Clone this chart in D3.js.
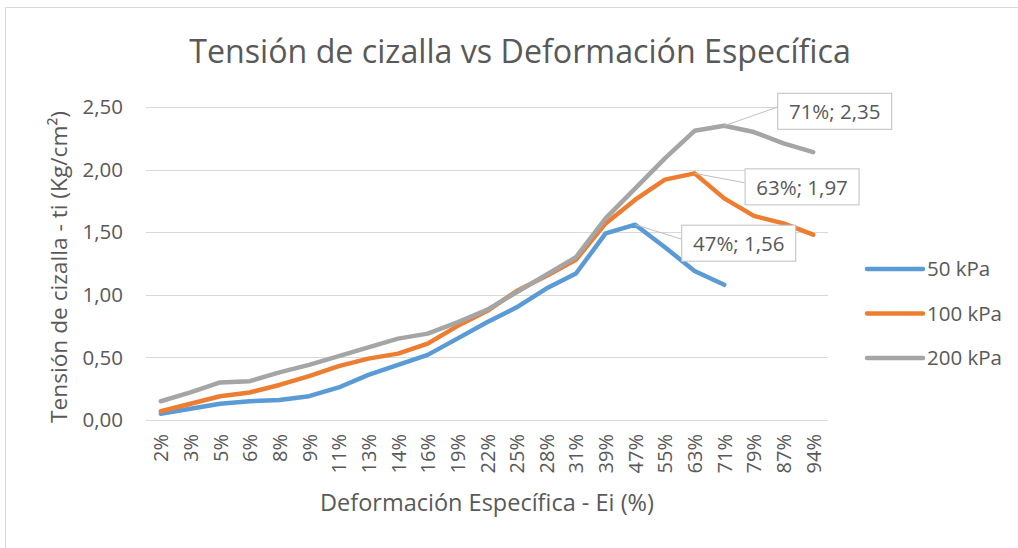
<!DOCTYPE html>
<html>
<head>
<meta charset="utf-8">
<script src="https://cdn.jsdelivr.net/npm/d3@7"></script>
<style>
  body { margin: 0; background: #fff; }
  text { font-family: "Open Sans", sans-serif; fill: #595959; }
</style>
</head>
<body>
<div id="chart"></div>
<script>
// categories (Deformación Específica)
var categories = ["2%","3%","5%","6%","8%","9%","11%","13%","14%","16%","19%","22%","25%","28%","31%","39%","47%","55%","63%","71%","79%","87%","94%"];

// Tensión de cizalla (Kg/cm²) per series
var kpa50  = [0.05,0.09,0.13,0.15,0.16,0.19,0.26,0.36,0.44,0.52,0.65,0.78,0.90,1.05,1.17,1.49,1.56,1.38,1.19,1.08,null,null,null];
var kpa100 = [0.07,0.13,0.19,0.22,0.28,0.35,0.43,0.49,0.53,0.61,0.75,0.87,1.03,1.15,1.28,1.57,1.76,1.92,1.97,1.77,1.63,1.57,1.48];
var kpa200 = [0.15,0.22,0.30,0.31,0.38,0.44,0.51,0.58,0.65,0.69,0.78,0.88,1.02,1.16,1.30,1.61,1.85,2.09,2.31,2.35,2.30,2.21,2.14];

var seriesNames = ["50 kPa", "100 kPa", "200 kPa"];
var seriesColors = ["#5B9BD5", "#ED7D31", "#A5A5A5"];
var yTicks = [0, 0.5, 1, 1.5, 2, 2.5];

// labelled points: series index, category
var labelled = [
  {s: 0, cat: "47%", dx: 46, dy: 0},
  {s: 1, cat: "63%", dx: 50, dy: -5},
  {s: 2, cat: "71%", dx: 53, dy: -33}
];

var series = [kpa50, kpa100, kpa200];
var comma = function(v) { return d3.format(".2f")(v).replace(".", ","); };

var W = 1018, H = 548;
var svg = d3.select("#chart").append("svg")
    .attr("width", W)
    .attr("height", H);

// chart border
svg.append("rect")
    .attr("x", 5.5).attr("y", 7.5)
    .attr("width", W + 20).attr("height", H + 20)
    .attr("fill", "#fff")
    .attr("stroke", "#D9D9D9");

var x = d3.scalePoint().domain(categories).range([146, 828]).padding(0.5);
var y = d3.scaleLinear().domain([0, 2.5]).range([420, 107]);

// gridlines
svg.append("g").selectAll("line")
    .data(yTicks)
    .join("line")
    .attr("x1", 146).attr("x2", 828)
    .attr("y1", d => Math.round(y(d)) + 0.5)
    .attr("y2", d => Math.round(y(d)) + 0.5)
    .attr("stroke", "#D9D9D9")
    .attr("stroke-width", 1);

// y tick labels
svg.append("g").selectAll("text")
    .data(yTicks)
    .join("text")
    .attr("x", 123)
    .attr("y", d => y(d))
    .attr("dy", "0.35em")
    .attr("text-anchor", "end")
    .attr("font-size", 20.5)
    .text(d => comma(d));

// x tick labels (rotated)
svg.append("g").selectAll("text")
    .data(categories)
    .join("text")
    .attr("transform", d => "translate(" + (x(d) + 7.5) + ",434) rotate(-90)")
    .attr("text-anchor", "end")
    .attr("font-size", 20)
    .text(d => d);

// lines
var line = d3.line()
    .defined(d => d.v != null)
    .x(d => x(d.c))
    .y(d => y(d.v));

series.forEach(function(vals, i) {
    var pts = categories.map((c, j) => ({c: c, v: vals[j]}));
    svg.append("path")
        .datum(pts)
        .attr("d", line)
        .attr("fill", "none")
        .attr("stroke", seriesColors[i])
        .attr("stroke-width", 4.5)
        .attr("stroke-linejoin", "round")
        .attr("stroke-linecap", "round");
});

// data labels with leader lines
labelled.forEach(function(l) {
    var v = series[l.s][categories.indexOf(l.cat)];
    var px = x(l.cat), py = y(v);
    var bx = px + l.dx, bw = 114, bh = 36;
    var by = py + l.dy;
    svg.append("line")
        .attr("x1", px).attr("y1", py)
        .attr("x2", bx).attr("y2", by + bh * 0.4)
        .attr("stroke", "#BFBFBF").attr("stroke-width", 1);
    svg.append("rect")
        .attr("x", bx + 0.5).attr("y", by + 0.5)
        .attr("width", bw).attr("height", bh)
        .attr("fill", "#fff")
        .attr("stroke", "#BFBFBF");
    svg.append("text")
        .attr("x", bx + bw / 2 + 0.5)
        .attr("y", by + bh / 2 + 1)
        .attr("dy", "0.35em")
        .attr("text-anchor", "middle")
        .attr("font-size", 20.5)
        .text(l.cat + "; " + comma(v));
});

// legend
var leg = svg.append("g").selectAll("g")
    .data(seriesNames)
    .join("g")
    .attr("transform", (d, i) => "translate(867," + (269 + i * 44.5) + ")");
leg.append("line")
    .attr("x1", 0).attr("x2", 56)
    .attr("stroke", (d, i) => seriesColors[i])
    .attr("stroke-width", 4.5)
    .attr("stroke-linecap", "round");
leg.append("text")
    .attr("x", 60)
    .attr("dy", "0.35em")
    .attr("font-size", 20.5)
    .text(d => d);

// titles
svg.append("text")
    .attr("x", 520).attr("y", 63)
    .attr("text-anchor", "middle")
    .attr("font-size", 32.2)
    .text("Tensión de cizalla vs Deformación Específica");

svg.append("text")
    .attr("x", 487).attr("y", 511)
    .attr("text-anchor", "middle")
    .attr("font-size", 23.5)
    .text("Deformación Específica - Ei (%)");

svg.append("text")
    .attr("transform", "translate(67,267) rotate(-90)")
    .attr("text-anchor", "middle")
    .attr("font-size", 22.7)
    .text("Tensión de cizalla  - ti (Kg/cm²)");
</script>
</body>
</html>
